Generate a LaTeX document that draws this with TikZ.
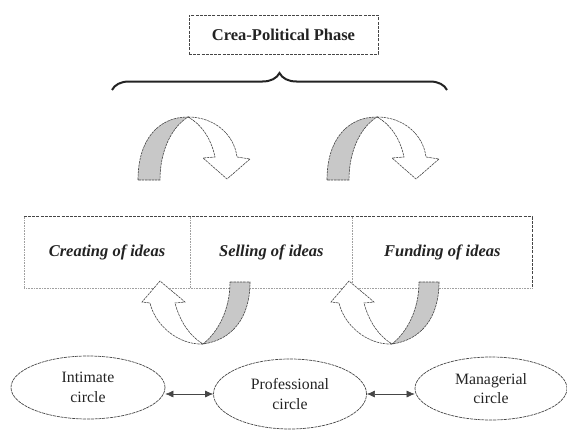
\documentclass[tikz,border=0pt]{standalone}
\usepackage{fontspec}
\setmainfont{Liberation Serif}
\usetikzlibrary{shapes.geometric, arrows.meta, positioning, decorations.pathreplacing}
\definecolor{edge}{RGB}{70,70,70}
\definecolor{faint}{RGB}{160,160,160}
\definecolor{band}{RGB}{200,200,200}
\definecolor{ink}{RGB}{35,35,35}
\tikzset{
  cell/.style={minimum height=71pt, inner sep=0pt, text=ink,
               font=\fontsize{16.5pt}{19.5pt}\selectfont\bfseries\itshape},
  circlenode/.style={ellipse, draw=edge, dash pattern=on 3pt off 0.8pt, line width=0.7pt,
                     inner sep=0pt, align=center, text=ink},
  greyband/.style={fill=band, draw=edge, line width=0.6pt, dash pattern=on 2.5pt off 0.8pt},
  whiteband/.style={fill=white, draw=edge, line width=0.6pt, dash pattern=on 2.5pt off 0.8pt},
}

\begin{document}
\begin{tikzpicture}[x=1pt, y=-1pt, font=\fontsize{15.8pt}{19.5pt}\selectfont]
        \useasboundingbox (0,0) rectangle (567,436);
        \node[draw=edge, dash pattern=on 3pt off 1.2pt, line width=0.7pt, minimum width=189pt,
              minimum height=39pt, inner sep=0pt, text=ink,
              font=\fontsize{16.5pt}{19.5pt}\selectfont\bfseries] (phase)
          at (283.5, 34.5) {Crea-Political Phase};
        \coordinate (braceL) at (112, 90);
        \coordinate (braceR) at (447, 90);
        \draw[decorate, decoration={brace, amplitude=17pt}, line width=2pt, ink] (braceL) -- (braceR);
        \node[cell, minimum width=166pt] (creating) at (107, 252.5) {Creating of ideas};
        \node[cell, minimum width=162pt, right=0pt of creating] (selling) {Selling of ideas};
        \node[cell, minimum width=179pt, right=0pt of selling] (funding) {Funding of ideas};
        \draw[edge, dash pattern=on 3pt off 1.2pt, line width=0.8pt]
          (creating.north west) -- (funding.north east) -- (funding.south east);
        \draw[faint, densely dotted, line width=0.6pt]
          (creating.north west) -- (creating.south west) -- (funding.south east);
        \draw[faint, densely dotted, line width=0.6pt] (selling.north west) -- (selling.south west);
        \draw[faint, densely dotted, line width=0.6pt] (selling.north east) -- (selling.south east);
        \foreach \dx in {0, 189} {
          \begin{scope}[xshift=\dx]
            \draw[greyband] (138,180) .. controls (138,140) and (158,117) .. (188,117)
              .. controls (172,127) and (160,150) .. (160,180) -- cycle;
            \draw[whiteband] (188,117) .. controls (214,117) and (234,134) .. (237,157)
              -- (250,159) -- (227,179) -- (203,158) -- (215,157)
              .. controls (211,138) and (201,124) .. (188,117) -- cycle;
            \draw[greyband] (230,282) -- (250,282) .. controls (250,318) and (232,340) .. (203,344)
              .. controls (218,332) and (230,310) .. (230,282) -- cycle;
            \draw[whiteband] (203,344) .. controls (178,345) and (155,325) .. (150,303)
              -- (142,302) -- (160,281) -- (185,302) -- (175,303)
              .. controls (180,322) and (190,336) .. (203,344) -- cycle;
          \end{scope}
        }
        \node[circlenode, minimum width=154pt, minimum height=63pt] (intimate)
          at (88, 387.5) {Intimate\\circle};
        \node[circlenode, minimum width=153pt, minimum height=70pt] (professional)
          at (290, 394) {Professional\\circle};
        \node[circlenode, minimum width=152pt, minimum height=63pt] (managerial)
          at (491, 388.5) {Managerial\\circle};
        \draw[{Latex[length=8pt, width=7pt]}-{Latex[length=8pt, width=7pt]}, edge, line width=0.6pt]
          (intimate.east |- professional.west) -- (professional.west);
        \draw[{Latex[length=8pt, width=7pt]}-{Latex[length=8pt, width=7pt]}, edge, line width=0.6pt]
          (professional.east) -- (managerial.west |- professional.east);
      \end{tikzpicture}
\end{document}
